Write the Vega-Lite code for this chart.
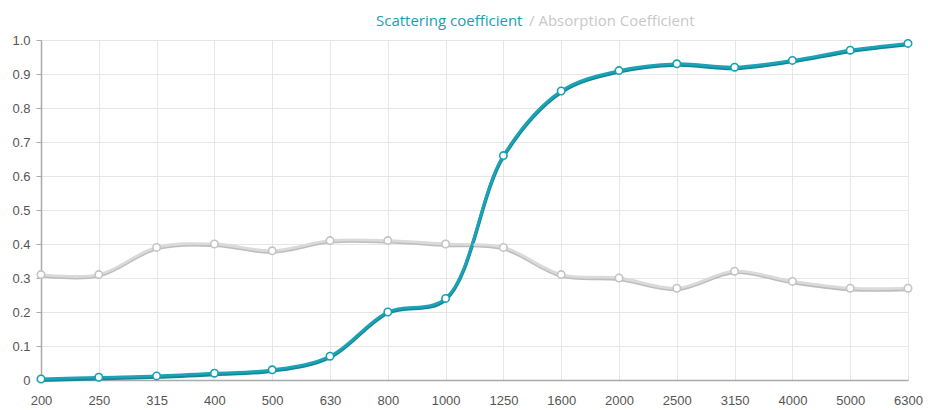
{
  "$schema": "https://vega.github.io/schema/vega-lite/v6.json",
  "width": 867,
  "height": 340,
  "autosize": "none",
  "padding": {"left": 41, "top": 40, "right": 20, "bottom": 30},
  "background": "white",
  "data": {
    "values": [
      {"freq": "200", "series": "Absorption Coefficient", "value": 0.31},
      {"freq": "250", "series": "Absorption Coefficient", "value": 0.31},
      {"freq": "315", "series": "Absorption Coefficient", "value": 0.39},
      {"freq": "400", "series": "Absorption Coefficient", "value": 0.40},
      {"freq": "500", "series": "Absorption Coefficient", "value": 0.38},
      {"freq": "630", "series": "Absorption Coefficient", "value": 0.41},
      {"freq": "800", "series": "Absorption Coefficient", "value": 0.41},
      {"freq": "1000", "series": "Absorption Coefficient", "value": 0.40},
      {"freq": "1250", "series": "Absorption Coefficient", "value": 0.39},
      {"freq": "1600", "series": "Absorption Coefficient", "value": 0.31},
      {"freq": "2000", "series": "Absorption Coefficient", "value": 0.30},
      {"freq": "2500", "series": "Absorption Coefficient", "value": 0.27},
      {"freq": "3150", "series": "Absorption Coefficient", "value": 0.32},
      {"freq": "4000", "series": "Absorption Coefficient", "value": 0.29},
      {"freq": "5000", "series": "Absorption Coefficient", "value": 0.27},
      {"freq": "6300", "series": "Absorption Coefficient", "value": 0.27},
      {"freq": "200", "series": "Scattering coefficient", "value": 0.003},
      {"freq": "250", "series": "Scattering coefficient", "value": 0.008},
      {"freq": "315", "series": "Scattering coefficient", "value": 0.012},
      {"freq": "400", "series": "Scattering coefficient", "value": 0.02},
      {"freq": "500", "series": "Scattering coefficient", "value": 0.03},
      {"freq": "630", "series": "Scattering coefficient", "value": 0.07},
      {"freq": "800", "series": "Scattering coefficient", "value": 0.20},
      {"freq": "1000", "series": "Scattering coefficient", "value": 0.24},
      {"freq": "1250", "series": "Scattering coefficient", "value": 0.66},
      {"freq": "1600", "series": "Scattering coefficient", "value": 0.85},
      {"freq": "2000", "series": "Scattering coefficient", "value": 0.91},
      {"freq": "2500", "series": "Scattering coefficient", "value": 0.93},
      {"freq": "3150", "series": "Scattering coefficient", "value": 0.92},
      {"freq": "4000", "series": "Scattering coefficient", "value": 0.94},
      {"freq": "5000", "series": "Scattering coefficient", "value": 0.97},
      {"freq": "6300", "series": "Scattering coefficient", "value": 0.99}
    ]
  },
  "encoding": {
    "x": {
      "field": "freq", "type": "ordinal", "sort": null,
      "scale": {"type": "point", "padding": 0},
      "axis": {
        "title": null, "labelAngle": 0, "labelFont": "Liberation Sans", "labelFontSize": 13,
        "labelColor": "#555", "labelPadding": 14, "ticks": false,
        "domainColor": "#aaa", "domainWidth": 1.5,
        "grid": true, "gridColor": "#e6e6e6", "gridWidth": 1
      }
    },
    "y": {
      "field": "value", "type": "quantitative",
      "scale": {"domain": [0, 1], "nice": false, "zero": true},
      "axis": {
        "title": null, "values": [0, 0.1, 0.2, 0.3, 0.4, 0.5, 0.6, 0.7, 0.8, 0.9, 1],
        "labelExpr": "datum.value == 0 ? '0' : format(datum.value, '.1f')",
        "labelFont": "Liberation Sans", "labelFontSize": 13, "labelColor": "#555",
        "labelPadding": 6, "tickSize": 5, "tickColor": "#aaa", "labelOverlap": false,
        "domainColor": "#aaa", "domainWidth": 1.5,
        "grid": true, "gridColor": "#e6e6e6", "gridWidth": 1
      }
    },
    "detail": {"field": "series"}
  },
  "layer": [
    {
      "mark": {"type": "line", "interpolate": "catmull-rom", "strokeWidth": 3.5, "yOffset": 1.2},
      "encoding": {
        "stroke": {
          "field": "series", "type": "nominal",
          "scale": {"domain": ["Absorption Coefficient", "Scattering coefficient"], "range": ["#bdbdbd", "#0e8796"]},
          "legend": null
        }
      }
    },
    {
      "mark": {"type": "line", "interpolate": "catmull-rom", "strokeWidth": 2.8},
      "encoding": {
        "stroke": {
          "field": "series", "type": "nominal",
          "scale": {"domain": ["Absorption Coefficient", "Scattering coefficient"], "range": ["#dadada", "#1ba3b5"]},
          "legend": {
            "orient": "none", "legendX": 334, "legendY": -27, "direction": "horizontal",
            "title": null, "symbolSize": 1, "symbolStrokeWidth": 0, "symbolType": "circle",
            "symbolOpacity": 0,
            "padding": 0, "columnPadding": 5, "labelOffset": -14,
            "values": ["Scattering coefficient", "Absorption Coefficient"],
            "labelFont": "Open Sans", "labelFontSize": 15,
            "labelExpr": "datum.value == 'Scattering coefficient' ? datum.value : '/ ' + datum.value",
            "labelLimit": 300,
            "encode": {
              "labels": {"update": {"fill": {"signal": "datum.value == 'Scattering coefficient' ? '#17a0b3' : '#c8c8c8'"}}}
            }
          }
        }
      }
    },
    {
      "mark": {"type": "point", "filled": true, "fill": "white", "size": 55, "strokeWidth": 1.6, "opacity": 1},
      "encoding": {
        "stroke": {
          "field": "series", "type": "nominal",
          "scale": {"domain": ["Absorption Coefficient", "Scattering coefficient"], "range": ["#c4c4c4", "#17a0b3"]},
          "legend": null
        }
      }
    }
  ],
  "resolve": {"scale": {"stroke": "independent"}, "legend": {"stroke": "independent"}}
}
